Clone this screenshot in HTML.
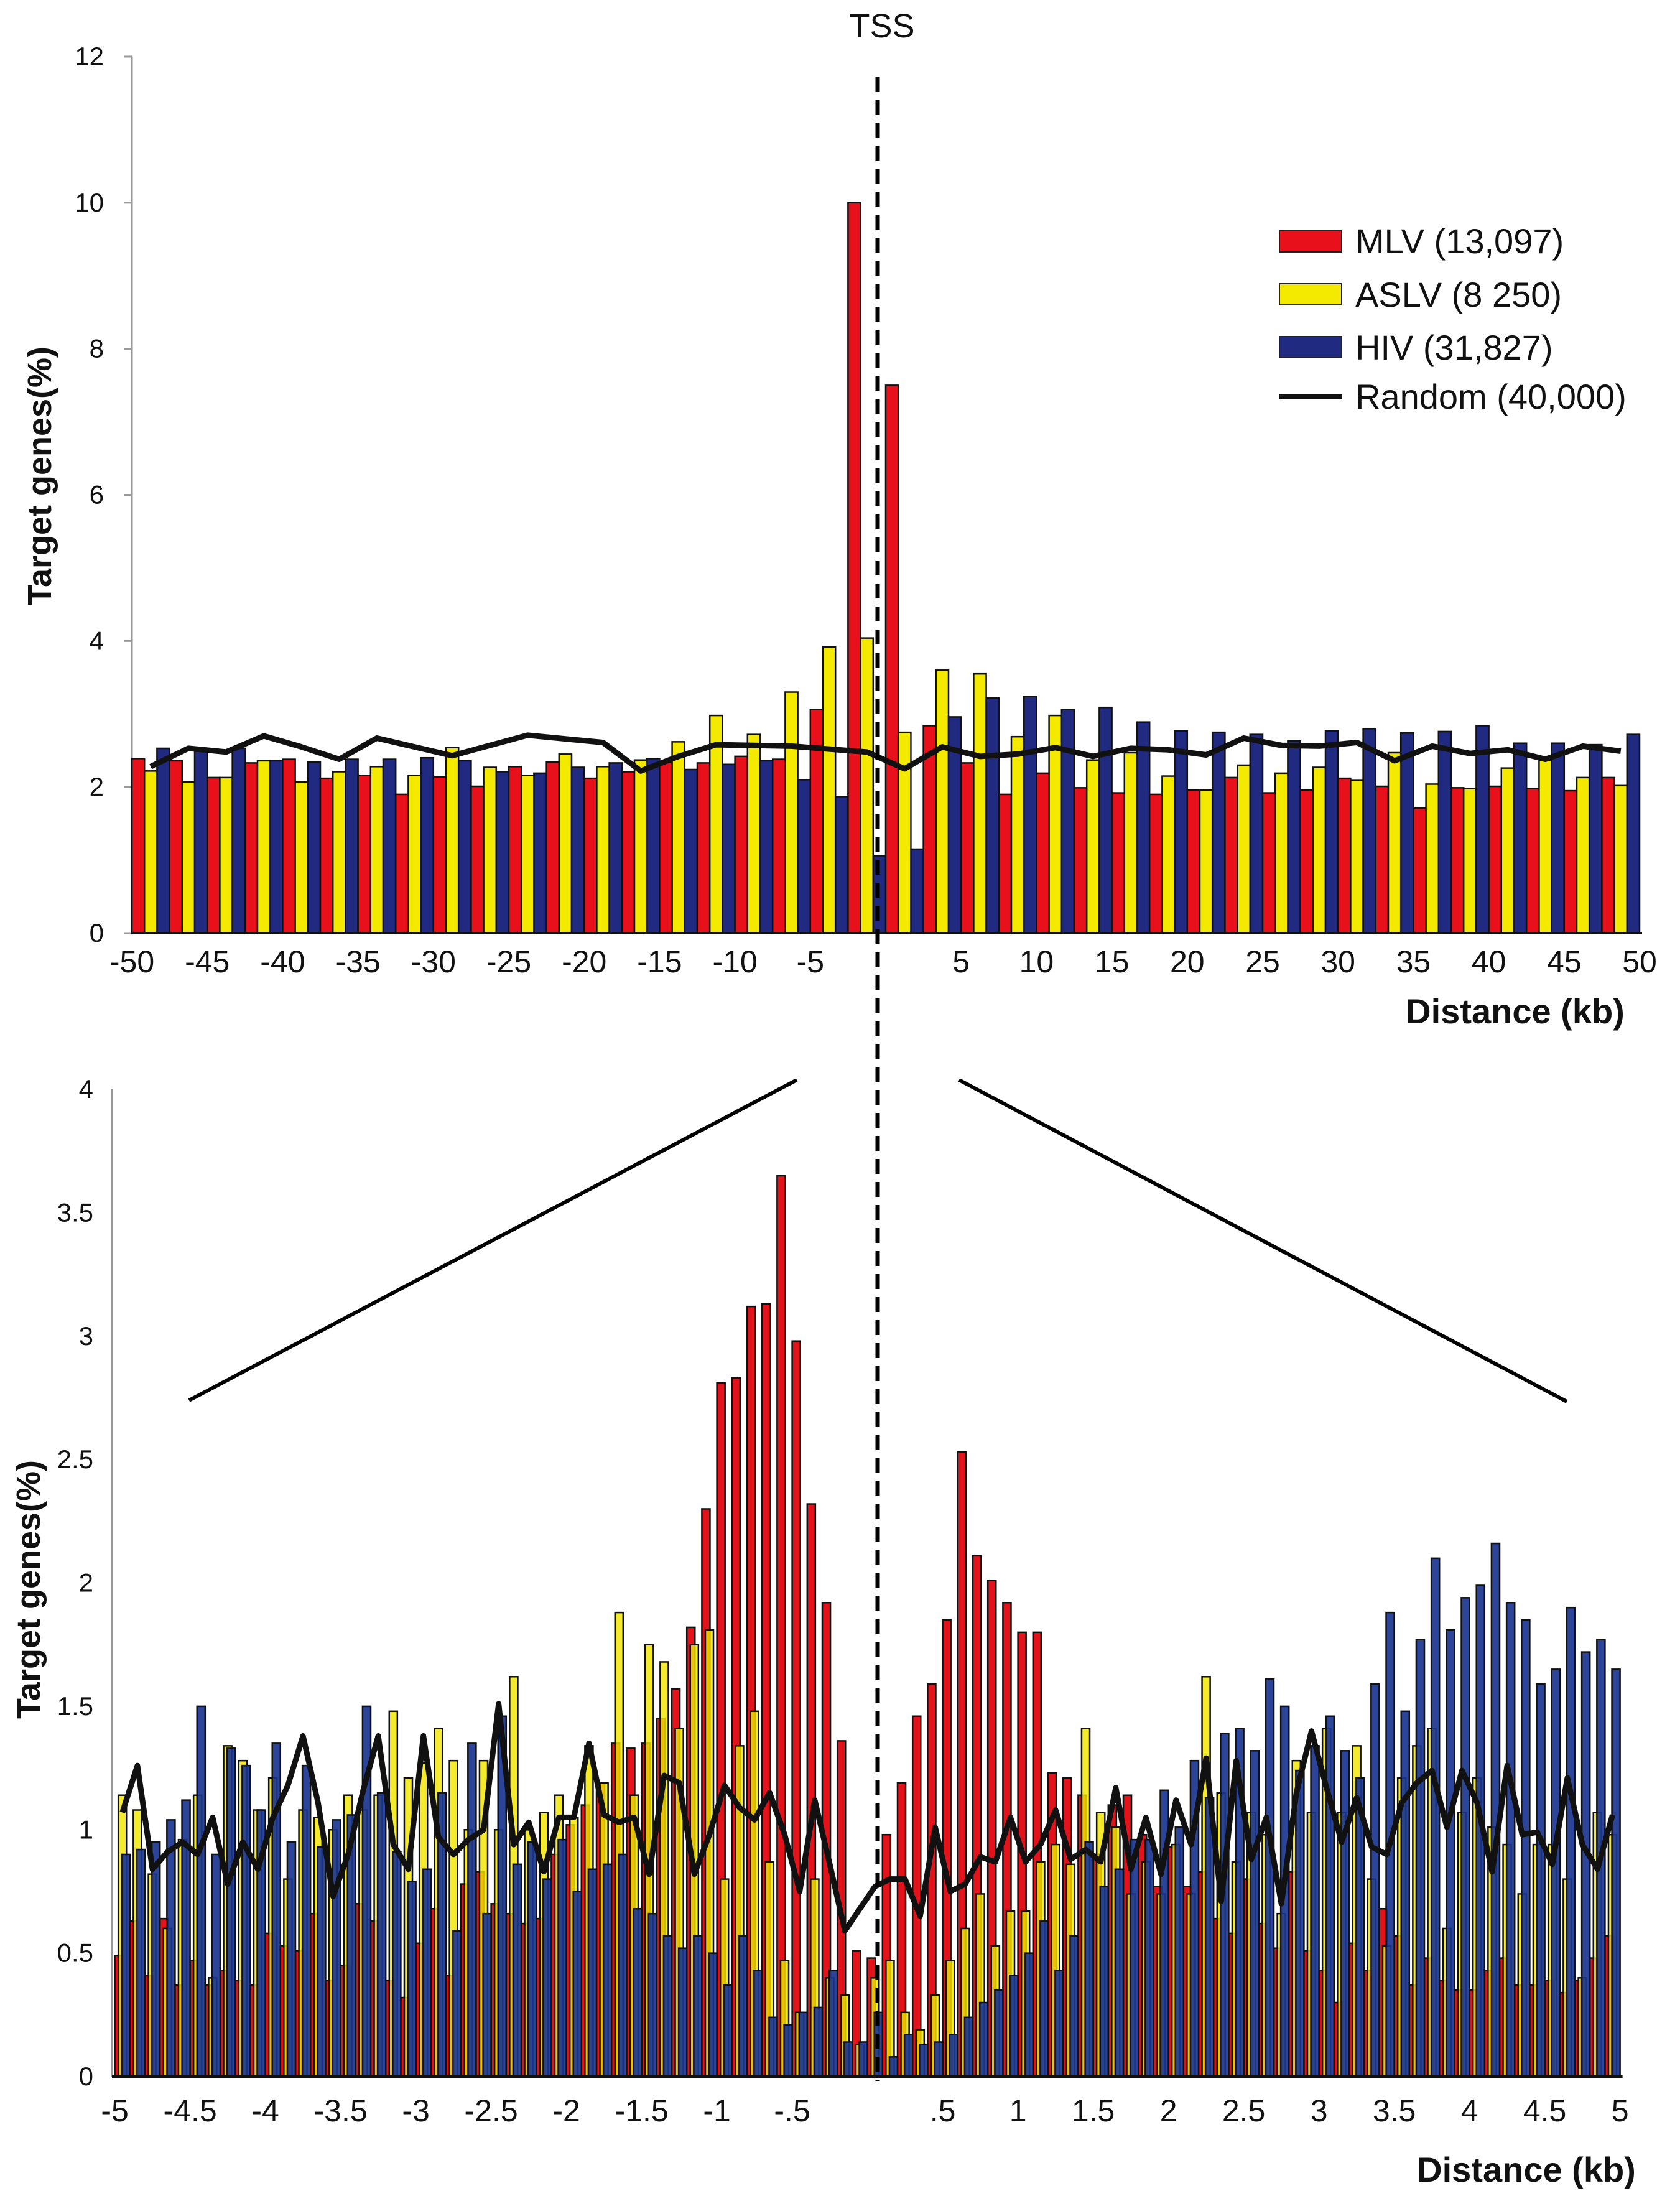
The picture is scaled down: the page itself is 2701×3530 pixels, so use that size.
<!DOCTYPE html>
<html><head><meta charset="utf-8"><title>Integration site distribution around TSS</title>
<style>
html,body{margin:0;padding:0;background:#fff;}
svg{display:block;font-family:"Liberation Sans",Arial,sans-serif;}
</style></head>
<body>
<svg id="fig" width="2701" height="3530" viewBox="0 0 2701 3530" xmlns="http://www.w3.org/2000/svg">
  <g id="top"></g>
  <g id="bot"></g>
  <text x="1418" y="60" font-size="54" text-anchor="middle" fill="#111">TSS</text>
  <line x1="1411" y1="124" x2="1411" y2="3345" stroke="#000" stroke-width="7" stroke-dasharray="24 13"/>
  <line x1="304" y1="2251" x2="1281" y2="1736" stroke="#000" stroke-width="6"/>
  <line x1="1542" y1="1736" x2="2519" y2="2253" stroke="#000" stroke-width="6"/>
  <g id="legend">
    <rect x="2057" y="371" width="100" height="34" fill="#e8101a" stroke="#222" stroke-width="2"/>
    <text x="2179" y="407" font-size="56" fill="#111">MLV (13,097)</text>
    <rect x="2057" y="456" width="100" height="34" fill="#f4ea00" stroke="#222" stroke-width="2"/>
    <text x="2179" y="493" font-size="56" fill="#111">ASLV (8 250)</text>
    <rect x="2057" y="541" width="100" height="34" fill="#1f2a80" stroke="#222" stroke-width="2"/>
    <text x="2179" y="578" font-size="56" fill="#111">HIV (31,827)</text>
    <line x1="2057" y1="637" x2="2157" y2="637" stroke="#111" stroke-width="8"/>
    <text x="2179" y="657" font-size="56" fill="#111">Random (40,000)</text>
  </g>
</svg>
<script>
// ---------- TOP CHART DATA (bins of 2.5 kb, -50..50 kb) ----------
const topTicksY = [0,2,4,6,8,10,12];
const topTicksX = [-50,-45,-40,-35,-30,-25,-20,-15,-10,-5,5,10,15,20,25,30,35,40,45,50];
const topMLV  = [2.39,2.36,2.13,2.33,2.38,2.12,2.16,1.9,2.14,2.01,2.28,2.34,2.12,2.21,2.34,2.33,2.42,2.38,3.06,10.0,
                 7.5,2.84,2.33,1.9,2.19,1.99,1.92,1.9,1.96,2.13,1.92,1.96,2.12,2.01,1.71,1.99,2.01,1.98,1.95,2.13];
const topASLV = [2.22,2.07,2.13,2.36,2.07,2.21,2.28,2.16,2.54,2.27,2.16,2.45,2.28,2.37,2.62,2.98,2.72,3.3,3.92,4.04,
                 2.75,3.6,3.55,2.69,2.98,2.37,2.47,2.15,1.96,2.3,2.19,2.27,2.09,2.47,2.04,1.98,2.26,2.37,2.13,2.02];
const topHIV  = [2.53,2.49,2.53,2.36,2.34,2.38,2.38,2.4,2.36,2.21,2.19,2.27,2.33,2.39,2.24,2.31,2.36,2.1,1.87,1.06,
                 1.15,2.96,3.22,3.24,3.06,3.09,2.89,2.77,2.75,2.72,2.63,2.77,2.8,2.74,2.76,2.84,2.6,2.6,2.58,2.72];
const topRandom = [2.28,2.53,2.48,2.7,2.55,2.38,2.67,2.55,2.43,2.57,2.71,2.66,2.61,2.22,2.42,2.58,2.57,2.56,2.52,2.48,
                   2.25,2.55,2.42,2.45,2.54,2.42,2.53,2.51,2.44,2.67,2.57,2.56,2.61,2.36,2.56,2.46,2.51,2.38,2.56,2.49];

// ---------- BOTTOM CHART DATA (bins of 0.1 kb, -5..5 kb) ----------
const botTicksY = [0,0.5,1,1.5,2,2.5,3,3.5,4];
const botTickLabelsY = ["0","0.5","1","1.5","2","2.5","3","3.5","4"];
const botTicksX = [-5,-4.5,-4,-3.5,-3,-2.5,-2,-1.5,-1,-0.5,0.5,1,1.5,2,2.5,3,3.5,4,4.5,5];
const botTickLabelsX = ["-5","-4.5","-4","-3.5","-3","-2.5","-2","-1.5","-1","-.5",".5","1","1.5","2","2.5","3","3.5","4","4.5","5"];
const botMLV = [0.49,0.63,0.41,0.64,0.37,0.47,0.37,0.43,0.39,0.37,0.58,0.53,0.51,0.66,0.39,0.45,0.7,0.63,0.39,0.32,0.54,0.68,0.41,0.78,0.83,
  0.7,0.66,0.62,0.64,0.9,1.02,1.1,1.19,1.35,1.33,1.35,1.45,1.57,1.82,2.3,2.81,2.83,3.12,3.13,3.65,2.98,2.32,1.92,1.36,0.51,0.48,
  0.98,1.19,1.46,1.59,1.85,2.53,2.11,2.01,1.92,1.8,1.8,1.23,1.21,1.14,0.9,1.1,1.14,0.98,0.77,0.93,0.77,0.83,0.64,0.58,0.8,0.62,
  0.52,0.83,0.51,0.43,0.3,0.54,0.43,0.68,0.57,0.37,0.48,0.39,0.35,0.35,0.43,0.48,0.37,0.37,0.39,0.34,0.39,0.48,0.57];
const botASLV = [1.14,1.08,0.82,0.6,0.96,1.14,0.4,1.34,1.28,1.08,1.21,0.8,1.08,1.05,1.0,1.14,1.08,1.14,1.48,1.21,1.27,1.41,1.28,1.0,1.28,
  1.0,1.62,1.0,1.07,1.14,1.05,1.34,1.19,1.88,1.14,1.75,1.68,1.41,1.75,1.81,0.8,1.34,1.48,0.87,0.47,0.26,0.8,0.4,0.33,0.13,0.4,
  0.47,0.26,0.19,0.33,0.47,0.6,0.74,0.53,0.67,0.67,0.87,0.94,0.86,1.41,1.07,1.01,0.74,0.87,0.74,0.94,0.74,1.62,1.15,0.87,1.07,0.98,
  0.66,1.28,1.07,1.41,1.07,1.34,0.8,0.53,1.21,1.34,1.41,0.6,1.07,1.21,1.01,0.94,0.74,0.94,0.94,0.8,0.4,1.07,0.98];
const botHIV = [0.9,0.92,0.95,1.04,1.12,1.5,0.9,1.33,1.26,1.08,1.35,0.95,1.26,0.93,1.04,1.06,1.5,1.15,0.91,0.79,0.84,1.15,0.59,1.35,0.66,
  1.46,0.86,0.95,0.8,0.96,0.75,0.84,0.86,0.9,0.68,0.66,0.57,0.52,0.57,0.5,0.37,0.57,0.43,0.24,0.21,0.26,0.28,0.43,0.14,0.14,0.26,
  0.08,0.17,0.13,0.14,0.17,0.24,0.3,0.35,0.41,0.5,0.63,0.43,0.57,0.95,0.77,0.84,0.96,0.96,1.16,1.01,1.28,1.13,1.39,1.41,1.32,1.61,
  1.5,1.24,1.34,1.46,1.32,1.21,1.59,1.88,1.48,1.77,2.1,1.81,1.94,1.99,2.16,1.92,1.85,1.59,1.65,1.9,1.72,1.77,1.65];
const botRandom = [1.07,1.26,0.84,0.91,0.95,0.9,1.05,0.78,0.95,0.84,1.05,1.18,1.38,1.11,0.73,0.9,1.16,1.38,0.94,0.84,1.38,0.97,0.9,0.96,1.0,
  1.51,0.94,1.03,0.83,1.05,1.05,1.35,1.06,1.03,1.05,0.82,1.22,1.19,0.82,0.98,1.18,1.09,1.04,1.15,0.98,0.75,1.12,0.86,0.59,0.68,0.77,
  0.8,0.8,0.65,1.01,0.75,0.78,0.89,0.87,1.05,0.87,0.94,1.08,0.88,0.92,0.87,1.17,0.84,1.05,0.82,1.12,0.94,1.29,0.71,1.28,0.88,1.05,
  0.7,1.15,1.4,1.17,0.95,1.13,0.93,0.9,1.11,1.19,1.24,1.01,1.24,1.11,0.83,1.26,0.98,0.99,0.86,1.21,0.94,0.84,1.06];

const NS = "http://www.w3.org/2000/svg";
function mk(tag, parent, attrs){
  const e = document.createElementNS(NS, tag);
  for (const k in attrs) e.setAttribute(k, attrs[k]);
  parent.appendChild(e);
  return e;
}

// ---------- TOP CHART ----------
(function(){
  const g = document.getElementById('top');
  const X0 = 212, X1 = 2636, Y0 = 1500, YMAX = 12, YTOP = 91;
  const nb = topMLV.length;
  const barW = (X1 - X0) / (nb * 3);
  const y = v => Y0 - (v / YMAX) * (Y0 - YTOP);
  const xv = v => X0 + (v + 50) / 100 * (X1 - X0);

  const ya = mk('line', g, {x1:X0, y1:YTOP, x2:X0, y2:Y0, stroke:'#999', 'stroke-width':3});
  
  
  topTicksY.forEach(t => {
    const tk = mk('line', g, {x1:X0-12, y1:y(t), x2:X0, y2:y(t), stroke:'#999', 'stroke-width':3});
    
    
    const tl = mk('text', g, {x:X0-45, y:y(t)+14, 'font-size':42, 'text-anchor':'end', fill:'#111'});
    tl.textContent = t;
    
    
  });

  const series = [[topMLV,'#e8101a'],[topASLV,'#f4ea00'],[topHIV,'#1f2a80']];
  for (let i = 0; i < nb; i++){
    series.forEach((s, j) => {
      const v = s[0][i];
      const bx = X0 + (i*3 + j) * barW;
      const r = mk('rect', g, {x:bx, y:y(v), width:barW, height:Y0 - y(v), fill:s[1], stroke:'#111', 'stroke-width':2.5});
      
      
    });
  }
  const pts = topRandom.map((v,i) => (X0 + (i*3 + 1.5) * barW).toFixed(1) + ',' + y(v).toFixed(1)).join(' ');
  const pl = mk('polyline', g, {points:pts, fill:'none', stroke:'#111', 'stroke-width':9, 'stroke-linejoin':'round'});
  
  

  const xa = mk('line', g, {x1:X0, y1:Y0, x2:X1+4, y2:Y0, stroke:'#111', 'stroke-width':4});
  
  
  topTicksX.forEach(t => {
    const tl = mk('text', g, {x:xv(t), y:1563, 'font-size':50, 'text-anchor':'middle', fill:'#111'});
    tl.textContent = t;
    
    
  });
  const xt = mk('text', g, {x:2436, y:1645, 'font-size':56, 'font-weight':'bold', 'text-anchor':'middle', fill:'#111'});
  xt.textContent = 'Distance (kb)';
  
  
  const yt = mk('text', g, {x:0, y:0, 'font-size':54, 'font-weight':'bold', 'text-anchor':'middle', fill:'#111', transform:'translate(82,765) rotate(-90)'});
  yt.textContent = 'Target genes(%)';
  
  
})();

// ---------- BOTTOM CHART ----------
(function(){
  const g = document.getElementById('bot');
  const AX = 180, X0 = 184.6, X1 = 2604.6, Y0 = 3338, YMAX = 4, YTOP = 1751;
  const nb = botMLV.length;
  const bw = (X1 - X0) / nb;
  const y = v => Y0 - (v / YMAX) * (Y0 - YTOP);
  const xv = v => X0 + (v + 5) / 10 * (X1 - X0);

  const ya = mk('line', g, {x1:AX, y1:YTOP, x2:AX, y2:Y0, stroke:'#999', 'stroke-width':3});
  
  
  botTicksY.forEach((t,i) => {
    const tl = mk('text', g, {x:150, y:y(t)+14, 'font-size':42, 'text-anchor':'end', fill:'#111'});
    tl.textContent = botTickLabelsY[i];
    
    
  });

  const bar = bw * 0.54;
  const series = [[botMLV,'#e3131b',0,1],[botASLV,'#f2e600',0.23,0.82],[botHIV,'#1a3590',0.46,0.92]];
  series.forEach((s, j) => {
    for (let i = 0; i < nb; i++){
      const v = s[0][i];
      const bx = X0 + i * bw + s[2] * bw;
      const r = mk('rect', g, {x:bx, y:y(v), width:bar, height:Y0 - y(v), fill:s[1], 'fill-opacity':s[3], stroke:'#111', 'stroke-width':2.5});
      
      
    }
  });
  const pts = botRandom.map((v,i) => (X0 + (i + 0.5) * bw).toFixed(1) + ',' + y(v).toFixed(1)).join(' ');
  const pl = mk('polyline', g, {points:pts, fill:'none', stroke:'#111', 'stroke-width':9, 'stroke-linejoin':'round'});
  
  

  const xa = mk('line', g, {x1:AX, y1:Y0, x2:X1+4, y2:Y0, stroke:'#111', 'stroke-width':4});
  
  
  botTicksX.forEach((t,i) => {
    const tl = mk('text', g, {x:xv(t), y:3410, 'font-size':50, 'text-anchor':'middle', fill:'#111'});
    tl.textContent = botTickLabelsX[i];
    
    
  });
  const xt = mk('text', g, {x:2454, y:3507, 'font-size':56, 'font-weight':'bold', 'text-anchor':'middle', fill:'#111'});
  xt.textContent = 'Distance (kb)';
  
  
  const yt = mk('text', g, {x:0, y:0, 'font-size':54, 'font-weight':'bold', 'text-anchor':'middle', fill:'#111', transform:'translate(64,2555) rotate(-90)'});
  yt.textContent = 'Target genes(%)';
  
  
})();
</script>
</body></html>
